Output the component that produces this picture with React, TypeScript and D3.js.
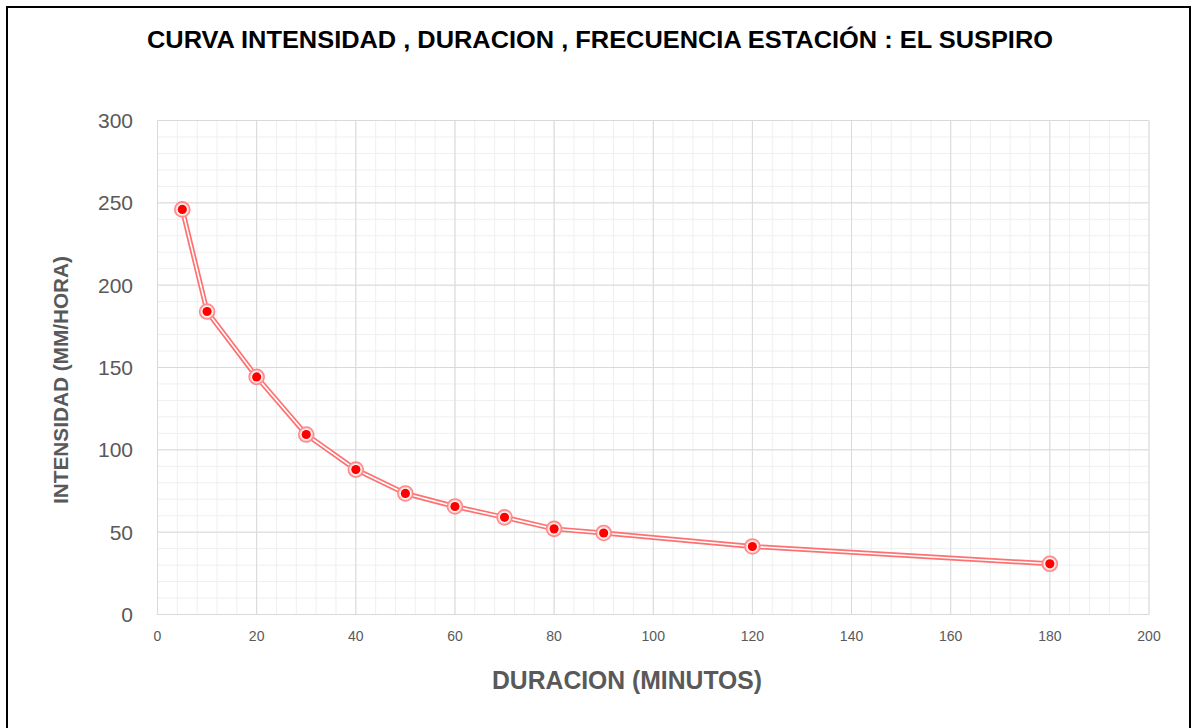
import * as d3 from "d3";

const duracion = [5, 10, 20, 30, 40, 50, 60, 70, 80, 90, 120, 180];
const intensidad = [246, 184, 144.3, 109.3, 88, 73.5, 65.6, 59, 52, 49.5, 41.3, 30.8];
const xTicks = [0, 20, 40, 60, 80, 100, 120, 140, 160, 180, 200];
const yTicks = [0, 50, 100, 150, 200, 250, 300];

const W = 1195;
const H = 728;
const left = 157.5;
const right = 1149;
const top = 120.5;
const bottom = 614.5;

export default function App() {
  const x = d3.scaleLinear().domain([0, 200]).range([left, right]);
  const y = d3.scaleLinear().domain([0, 300]).range([bottom, top]);

  const xMinor = d3.range(0, 201, 4);
  const yMinor = d3.range(0, 301, 10);

  const pts = duracion.map((d, i) => [x(d), y(intensidad[i])] as [number, number]);
  const line = d3.line()(pts) || "";

  return (
    <svg
      width={W}
      height={H}
      style={{ position: "absolute", top: 0, left: 0, background: "#fff" }}
      fontFamily="'Liberation Sans', Arial, sans-serif"
    >
      <rect x={7} y={7} width={1183} height={740} fill="#fff" stroke="#000" strokeWidth={2} />

      {/* minor grid */}
      {xMinor.map((v) => (
        <line key={"xm" + v} x1={x(v)} x2={x(v)} y1={top} y2={bottom} stroke="#efefef" strokeWidth={1} />
      ))}
      {yMinor.map((v) => (
        <line key={"ym" + v} x1={left} x2={right} y1={y(v)} y2={y(v)} stroke="#efefef" strokeWidth={1} />
      ))}
      {/* major grid */}
      {xTicks.map((v) => (
        <line key={"xg" + v} x1={x(v)} x2={x(v)} y1={top} y2={bottom} stroke="#d9d9d9" strokeWidth={1} />
      ))}
      {yTicks.map((v) => (
        <line key={"yg" + v} x1={left} x2={right} y1={y(v)} y2={y(v)} stroke="#d9d9d9" strokeWidth={1} />
      ))}

      {/* tick labels */}
      {yTicks.map((v) => (
        <text key={"yl" + v} x={133} y={y(v) + 7.5} textAnchor="end" fontSize={21} fill="#595959">
          {v}
        </text>
      ))}
      {xTicks.map((v) => (
        <text key={"xl" + v} x={x(v)} y={641} textAnchor="middle" fontSize={14} fill="#595959">
          {v}
        </text>
      ))}

      {/* series */}
      <path d={line} fill="none" stroke="#ff7070" strokeWidth={5} strokeLinejoin="round" />
      <path d={line} fill="none" stroke="#fff" strokeWidth={1.6} strokeLinejoin="round" />
      {pts.map(([px, py], i) => (
        <g key={"p" + i}>
          <circle cx={px} cy={py} r={7.5} fill="#ffd0d0" stroke="#ff8a8a" strokeWidth={1.6} />
          <circle cx={px} cy={py} r={5.6} fill="#fff" />
          <circle cx={px} cy={py} r={4.6} fill="#ff0000" />
        </g>
      ))}

      {/* titles */}
      <text x={600} y={48} textAnchor="middle" fontSize={24} fontWeight="bold" fill="#000" textLength={906} lengthAdjust="spacingAndGlyphs">
        CURVA INTENSIDAD , DURACION , FRECUENCIA ESTACIÓN : EL SUSPIRO
      </text>
      <text x={627} y={689} textAnchor="middle" fontSize={25} fontWeight="bold" fill="#595959" textLength={270} lengthAdjust="spacingAndGlyphs">
        DURACION (MINUTOS)
      </text>
      <text
        transform={`translate(68, ${380}) rotate(-90)`}
        textAnchor="middle"
        fontSize={21}
        fontWeight="bold"
        fill="#595959"
        textLength={248}
        lengthAdjust="spacingAndGlyphs"
      >
        INTENSIDAD (MM/HORA)
      </text>
    </svg>
  );
}
